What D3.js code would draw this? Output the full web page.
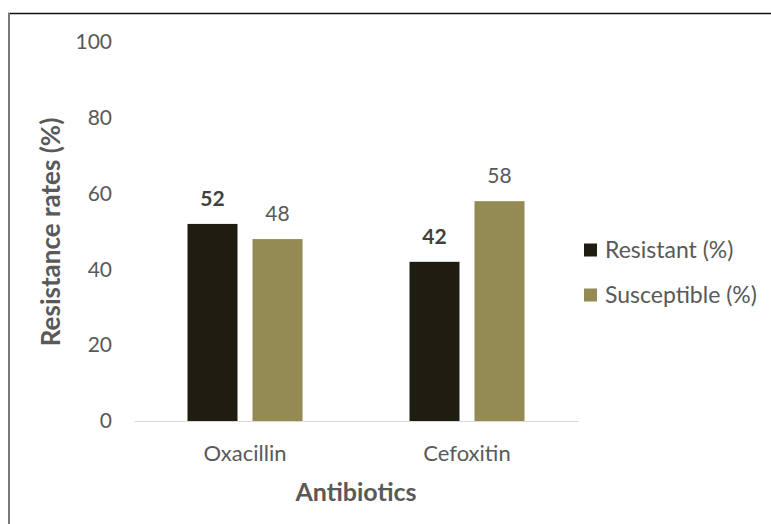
<!DOCTYPE html>
<html>
<head>
<meta charset="utf-8">
<script src="https://cdn.jsdelivr.net/npm/d3@7"></script>
<style>
  html, body { margin: 0; padding: 0; background: #fff; }
  svg { display: block; }
  text { font-family: Lato, "Open Sans", sans-serif; }
</style>
</head>
<body>
<svg id="chart" width="771" height="524"></svg>
<script>
const categories = ["Oxacillin", "Cefoxitin"];
const seriesNames = ["Resistant (%)", "Susceptible (%)"];
const resistant = [52, 42];
const susceptible = [48, 58];
const yTicks = [0, 20, 40, 60, 80, 100];
const seriesColors = ["#1f1d12", "#948a54"];
const seriesBoldLabels = [true, false];

const seriesValues = [resistant, susceptible];

const svg = d3.select("#chart");

// frame
svg.append("line").attr("x1", 8).attr("x2", 771).attr("y1", 13.5).attr("y2", 13.5)
  .attr("stroke", "#111").attr("stroke-width", 1.5);
svg.append("line").attr("x1", 9).attr("x2", 9).attr("y1", 13).attr("y2", 524)
  .attr("stroke", "#7a7a7a").attr("stroke-width", 2);

const x0 = d3.scaleBand().domain(categories).range([134, 578]).padding(0);
const x1 = d3.scaleBand().domain(seriesNames).range([0, x0.bandwidth()])
  .paddingInner(0.2308).paddingOuter(0.823);
const y = d3.scaleLinear().domain([0, 100]).range([421, 42]);

// y tick labels
const yAxis = d3.axisLeft(y).tickValues(yTicks).tickSize(0).tickPadding(0);
const gy = svg.append("g").attr("transform", "translate(112,0)").call(yAxis);
gy.select(".domain").remove();
gy.selectAll("text").attr("font-size", 21).attr("fill", "#595959")
  .attr("font-family", "Lato, sans-serif");

// x axis
const xAxis = d3.axisBottom(x0).tickSize(0).tickPadding(0);
const gx = svg.append("g").attr("transform", "translate(0,421)").call(xAxis);
gx.select(".domain").attr("stroke", "#d9d9d9").attr("stroke-width", 1.2);
gx.selectAll("text").attr("font-size", 22).attr("fill", "#595959")
  .attr("font-family", "Lato, sans-serif").attr("dy", null).attr("y", 40);

// bars
const groups = svg.append("g").selectAll("g").data(categories).join("g")
  .attr("transform", d => `translate(${x0(d)},0)`);

groups.each(function(cat, ci) {
  const g = d3.select(this);
  seriesNames.forEach((s, si) => {
    const v = seriesValues[si][ci];
    g.append("rect")
      .attr("x", x1(s)).attr("width", x1.bandwidth())
      .attr("y", y(v)).attr("height", y(0) - y(v))
      .attr("fill", seriesColors[si]);
    g.append("text")
      .attr("x", x1(s) + x1.bandwidth() / 2)
      .attr("y", y(v) - 18)
      .attr("text-anchor", "middle")
      .attr("font-size", 21)
      .attr("font-weight", seriesBoldLabels[si] ? "bold" : "normal")
      .attr("fill", seriesBoldLabels[si] ? "#404040" : "#595959")
      .text(v);
  });
});

// axis titles
svg.append("text").attr("x", 356).attr("y", 501).attr("text-anchor", "middle")
  .attr("font-size", 25).attr("font-weight", "bold").attr("fill", "#595959")
  .text("Antibiotics");
svg.append("text").attr("transform", "translate(60,232) rotate(-90)")
  .attr("text-anchor", "middle")
  .attr("font-size", 26).attr("font-weight", "bold").attr("fill", "#595959")
  .text("Resistance rates (%)");

// legend
const legend = svg.append("g").selectAll("g").data(seriesNames).join("g")
  .attr("transform", (d, i) => `translate(584,${250 + i * 45})`);
legend.append("rect").attr("x", 0).attr("y", -6.5).attr("width", 13).attr("height", 13)
  .attr("fill", (d, i) => seriesColors[i]);
legend.append("text").attr("x", 21).attr("y", 0).attr("dy", "0.35em")
  .attr("font-size", 23).attr("fill", "#595959").text(d => d);
</script>
</body>
</html>
